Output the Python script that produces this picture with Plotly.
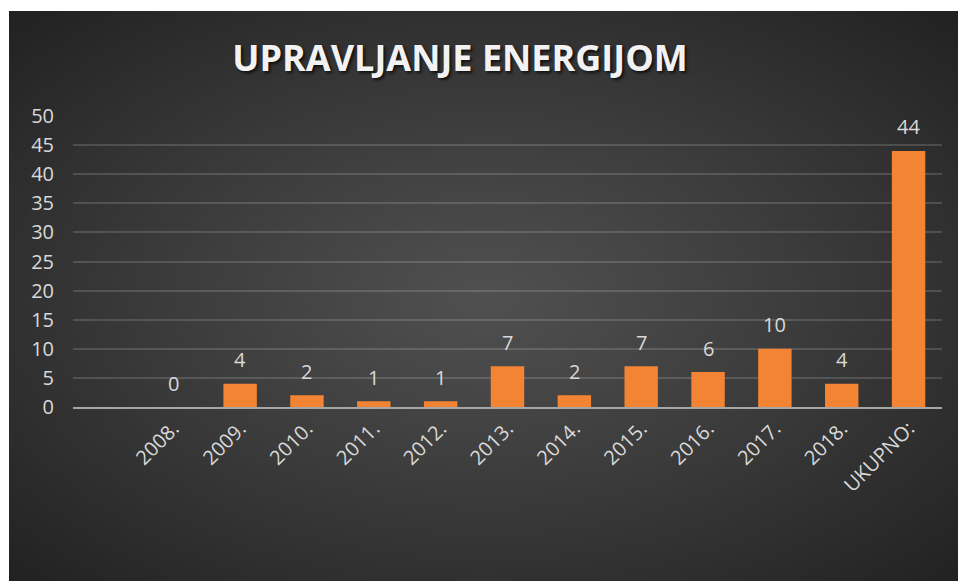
import base64
import struct
import zlib

import numpy as np
import plotly.graph_objects as go

# ── Data ────────────────────────────────────────────────────────────────────
categories = ["2008.", "2009.", "2010.", "2011.", "2012.", "2013.",
              "2014.", "2015.", "2016.", "2017.", "2018.", "UKUPNO:"]
values = [0, 4, 2, 1, 1, 7, 2, 7, 6, 10, 4, 44]
y_ticks = [0, 5, 10, 15, 20, 25, 30, 35, 40, 45, 50]

W, H = 958, 581
L, R, T, B = 73, 16, 116, 174
PW, PH = W - L - R, H - T - B

BAR_COLOR = "#f28433"
TEXT_COLOR = "#d9d9d9"
FONT = "Open Sans"


def radial_png(w, h, inner=(80, 80, 80), outer=(34, 34, 34)):
    """Small radial-gradient PNG, returned as data URI."""
    yy, xx = np.mgrid[0:h, 0:w]
    cx, cy = w * 0.5, h * 0.5
    d = np.sqrt(((xx - cx) / cx) ** 2 + ((yy - cy) / cy) ** 2) / np.sqrt(2)
    d = np.clip(d, 0, 1) ** 1.1
    img = np.zeros((h, w, 3), dtype=np.uint8)
    for i in range(3):
        img[..., i] = (inner[i] + (outer[i] - inner[i]) * d).astype(np.uint8)
    raw = b"".join(b"\x00" + img[r].tobytes() for r in range(h))

    def chunk(tag, data):
        c = struct.pack(">I", len(data)) + tag + data
        return c + struct.pack(">I", zlib.crc32(tag + data) & 0xFFFFFFFF)

    png = (b"\x89PNG\r\n\x1a\n"
           + chunk(b"IHDR", struct.pack(">IIBBBBB", w, h, 8, 2, 0, 0, 0))
           + chunk(b"IDAT", zlib.compress(raw, 9))
           + chunk(b"IEND", b""))
    return "data:image/png;base64," + base64.b64encode(png).decode()


fig = go.Figure()

fig.add_trace(go.Bar(
    x=categories,
    y=values,
    width=0.5,
    marker=dict(color=BAR_COLOR, line=dict(width=0)),
    hoverinfo="x+y",
))

# ── Data labels (x by index: "2008." would be read as a number) ─────────────
for i, v in enumerate(values):
    fig.add_annotation(
        x=i, y=v, text=str(v), showarrow=False,
        yanchor="middle", yshift=24,
        font=dict(family=FONT, size=20, color=TEXT_COLOR),
    )

# ── Background (dark radial gradient, thin white border top/left) ───────────
bg_x0, bg_y0, bg_x1, bg_y1 = 9, 11, W, H
fig.add_layout_image(
    source=radial_png(240, 144),
    xref="paper", yref="paper",
    x=(bg_x0 - L) / PW, y=(H - B - bg_y0) / PH,
    sizex=(bg_x1 - bg_x0) / PW, sizey=(bg_y1 - bg_y0) / PH,
    xanchor="left", yanchor="top",
    sizing="stretch", layer="below",
)

fig.update_layout(
    width=W, height=H,
    margin=dict(l=L, r=R, t=T, b=B),
    paper_bgcolor="white",
    plot_bgcolor="rgba(0,0,0,0)",
    showlegend=False,
    title=dict(
        text="<b>UPRAVLJANJE ENERGIJOM</b>",
        x=460 / W, xanchor="center",
        y=1 - 58 / H, yanchor="middle",
        font=dict(family=FONT, size=36, color="#f2f2f2",
                  shadow="2px 2px 3px rgba(0,0,0,0.7)"),
    ),
    xaxis=dict(
        type="category",
        range=[-1.5, 11.5],
        tickangle=-45,
        showline=True, linecolor="#a6a6a6", linewidth=2,
        showgrid=False,
        ticks="",
        tickfont=dict(family=FONT, size=20, color=TEXT_COLOR),
    ),
    yaxis=dict(
        range=[0, 50],
        tickvals=y_ticks,
        showgrid=True, gridcolor="rgba(255,255,255,0.15)", gridwidth=2,
        zeroline=False,
        ticks="outside", ticklen=14, tickcolor="rgba(0,0,0,0)",
        tickfont=dict(family=FONT, size=20, color=TEXT_COLOR),
    ),
    bargap=0.5,
)

# drop the default 8px body margin so the figure fills the window exactly
fig.write_html(
    "out.html",
    config={"displayModeBar": False},
    post_script="document.body.style.margin='0';document.body.style.overflow='hidden';",
)
